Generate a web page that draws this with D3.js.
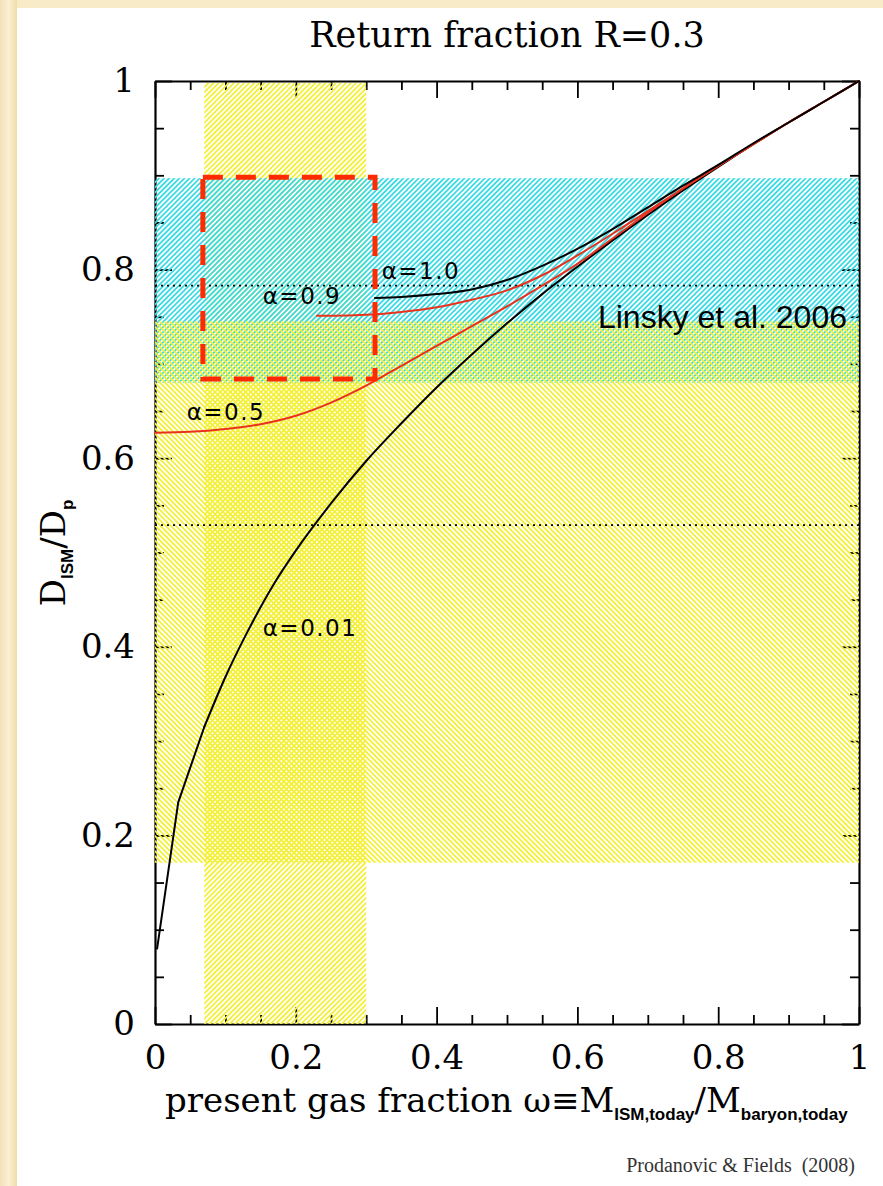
<!DOCTYPE html>
<html><head><meta charset="utf-8">
<script src="https://cdn.jsdelivr.net/npm/d3@7"></script>
<style>html,body{margin:0;padding:0;background:#fff}</style>
</head><body><svg id="c" width="883" height="1186"></svg>
<script>
// ---------- data ----------
const xTicks = [0, 0.2, 0.4, 0.6, 0.8, 1];
const xTickLabels = ["0", "0.2", "0.4", "0.6", "0.8", "1"];
const yTicks = [0, 0.2, 0.4, 0.6, 0.8, 1];
const yTickLabels = ["0", "0.2", "0.4", "0.6", "0.8", "1"];

const omegaA001 = [0.003, 0.033, 0.07, 0.1, 0.13, 0.17, 0.2, 0.25, 0.3, 0.35, 0.4, 0.45, 0.5, 0.55, 0.6, 0.65, 0.7, 0.75, 0.8, 0.85, 0.9, 0.95, 1];
const dA001     = [0.08, 0.235, 0.315, 0.368, 0.414, 0.468, 0.502, 0.552, 0.597, 0.637, 0.675, 0.71, 0.743, 0.774, 0.803, 0.831, 0.858, 0.884, 0.909, 0.933, 0.956, 0.978, 1];
const omegaA05  = [0, 0.05, 0.1, 0.15, 0.2, 0.25, 0.3, 0.35, 0.4, 0.45, 0.5, 0.55, 0.6, 0.65, 0.7, 0.75, 0.8, 0.85, 0.9, 0.95, 1];
const dA05      = [0.627, 0.628, 0.631, 0.636, 0.645, 0.659, 0.677, 0.698, 0.719, 0.74, 0.761, 0.783, 0.806, 0.833, 0.86, 0.886, 0.91, 0.933, 0.956, 0.978, 1];
const omegaA09  = [0.23, 0.25, 0.3, 0.35, 0.4, 0.45, 0.5, 0.55, 0.6, 0.65, 0.7, 0.75, 0.8, 0.85, 0.9, 0.95, 1];
const dA09      = [0.751, 0.751, 0.752, 0.755, 0.76, 0.768, 0.778, 0.794, 0.815, 0.838, 0.862, 0.886, 0.91, 0.933, 0.956, 0.978, 1];
const omegaA10  = [0.3125, 0.35, 0.4, 0.45, 0.5, 0.55, 0.6, 0.65, 0.7, 0.75, 0.8, 0.85, 0.9, 0.95, 1];
const dA10      = [0.770, 0.771, 0.774, 0.779, 0.789, 0.804, 0.822, 0.843, 0.866, 0.889, 0.911, 0.934, 0.956, 0.978, 1];

const seriesLabels = ["α=0.01", "α=0.5", "α=0.9", "α=1.0"];
const seriesColors = ["#000000", "#e8321e", "#e8321e", "#000000"];

const gasFractionBand = [0.07, 0.30];      // vertical yellow band (omega)
const linskyBand = [0.680, 0.897];         // cyan band (D/Dp)
const yellowDBand = [0.171, 0.745];        // horizontal yellow band (D/Dp)
const boxOmega = [0.068, 0.3125];          // red dashed box
const boxD = [0.684, 0.898];
const dottedLevels = [0.783, 0.529];

// ---------- setup ----------
const W = 883, H = 1186;
const svg = d3.select("#c");
const defs = svg.append("defs");

const grad = defs.append("linearGradient").attr("id", "beigeL").attr("x1", 0).attr("x2", 1).attr("y1", 0).attr("y2", 0);
grad.append("stop").attr("offset", "0").attr("stop-color", "#f3e2b6");
grad.append("stop").attr("offset", "0.5").attr("stop-color", "#fbf0d4");
grad.append("stop").attr("offset", "1").attr("stop-color", "#f1dca8");

function hatch(id, color, angle) {
  const p = defs.append("pattern").attr("id", id)
    .attr("patternUnits", "userSpaceOnUse")
    .attr("width", 3.6).attr("height", 3.6)
    .attr("patternTransform", `rotate(${angle})`);
  p.append("rect").attr("x", 0).attr("y", 0).attr("width", 1.8).attr("height", 3.6).attr("fill", color);
}
hatch("hYellowA", "#f4f03a", 45);
hatch("hCyanA", "#3cdbe4", 45);
hatch("hYellowB", "#f4f03a", -45);

// background
svg.append("rect").attr("x", 0).attr("y", 0).attr("width", W).attr("height", H).attr("fill", "#f8ebc7");
svg.append("rect").attr("x", 0).attr("y", 0).attr("width", 17).attr("height", H).attr("fill", "url(#beigeL)");
svg.append("rect").attr("x", 17).attr("y", 8).attr("width", W - 17).attr("height", H - 8).attr("fill", "#ffffff");

const x = d3.scaleLinear().domain([0, 1]).range([155, 859]);
const y = d3.scaleLinear().domain([0, 1]).range([1024, 81]);

const minorVals = d3.range(0, 21).map(i => i * 0.05).filter(v => Math.abs(v * 5 - Math.round(v * 5)) > 1e-6);

// ---------- axes (frame + ticks) ----------
const axes = [
  [d3.axisBottom(x), `translate(0,${y(0)})`, xTicks],
  [d3.axisTop(x), `translate(0,${y(1)})`, xTicks],
  [d3.axisLeft(y), `translate(${x(0)},0)`, yTicks],
  [d3.axisRight(y), `translate(${x(1)},0)`, yTicks]
];
axes.forEach(([gen, tr, majors]) => {
  const gMaj = svg.append("g").attr("transform", tr)
    .call(gen.tickValues(majors).tickSizeInner(-17).tickSizeOuter(0).tickFormat(""));
  gMaj.select(".domain").attr("stroke", "#000").attr("stroke-width", 2.2);
  gMaj.selectAll(".tick line").attr("stroke", "#000").attr("stroke-width", 1.8);
  const gMin = svg.append("g").attr("transform", tr)
    .call(gen.tickValues(minorVals).tickSizeInner(-9).tickSizeOuter(0).tickFormat(""));
  gMin.select(".domain").remove();
  gMin.selectAll(".tick line").attr("stroke", "#000").attr("stroke-width", 1.8);
});

// ---------- bands ----------
svg.append("rect")
  .attr("x", x(gasFractionBand[0])).attr("width", x(gasFractionBand[1]) - x(gasFractionBand[0]))
  .attr("y", y(0.998)).attr("height", y(0) - y(0.998))
  .attr("fill", "url(#hYellowA)");
svg.append("rect")
  .attr("x", x(0)).attr("width", x(1) - x(0))
  .attr("y", y(linskyBand[1])).attr("height", y(linskyBand[0]) - y(linskyBand[1]))
  .attr("fill", "url(#hCyanA)");
svg.append("rect")
  .attr("x", x(0)).attr("width", x(1) - x(0))
  .attr("y", y(yellowDBand[1])).attr("height", y(yellowDBand[0]) - y(yellowDBand[1]))
  .attr("fill", "url(#hYellowB)");

// dotted levels
svg.selectAll(".dotted").data(dottedLevels).enter().append("line")
  .attr("x1", x(0)).attr("x2", x(1))
  .attr("y1", d => y(d)).attr("y2", d => y(d))
  .attr("stroke", "#000").attr("stroke-width", 1.7).attr("stroke-dasharray", "2,4");

// ---------- curves ----------
const lineSmooth = d3.line().x(d => x(d[0])).y(d => y(d[1])).curve(d3.curveMonotoneX);
const lineStraight = d3.line().x(d => x(d[0])).y(d => y(d[1])).curve(d3.curveLinear);
function drawCurve(pts, color, gen) {
  svg.append("path").datum(pts)
    .attr("d", gen).attr("fill", "none")
    .attr("stroke", color).attr("stroke-width", 2)
    .attr("stroke-linejoin", "round").attr("stroke-linecap", "round");
}
// alpha = 0.01: coarse first samples drawn as straight segments, rest smooth
const pts001 = omegaA001.map((v, j) => [v, dA001[j]]);
drawCurve(pts001.slice(0, 3), seriesColors[0], lineStraight);
drawCurve(pts001.slice(2), seriesColors[0], lineSmooth);
drawCurve(omegaA05.map((v, j) => [v, dA05[j]]), seriesColors[1], lineSmooth);
drawCurve(omegaA09.map((v, j) => [v, dA09[j]]), seriesColors[2], lineSmooth);
drawCurve(omegaA10.map((v, j) => [v, dA10[j]]), seriesColors[3], lineSmooth);

// red dashed box
svg.append("rect")
  .attr("x", x(boxOmega[0])).attr("width", x(boxOmega[1]) - x(boxOmega[0]))
  .attr("y", y(boxD[1])).attr("height", y(boxD[0]) - y(boxD[1]))
  .attr("fill", "none").attr("stroke", "#ff2a00").attr("stroke-width", 5)
  .attr("stroke-dasharray", "20,13");

// ---------- tick labels ----------
const gxl = svg.append("g").attr("transform", `translate(0,${y(0)})`)
  .call(d3.axisBottom(x).tickValues(xTicks).tickSize(0).tickPadding(21).tickFormat((d, i) => xTickLabels[i]));
gxl.select(".domain").remove();
gxl.selectAll("text").attr("font-family", "DejaVu Serif").attr("font-size", 34).attr("fill", "#000");
const gyl = svg.append("g").attr("transform", `translate(${x(0)},0)`)
  .call(d3.axisLeft(y).tickValues(yTicks).tickSize(0).tickPadding(20).tickFormat((d, i) => yTickLabels[i]));
gyl.select(".domain").remove();
gyl.selectAll("text").attr("font-family", "DejaVu Serif").attr("font-size", 34).attr("fill", "#000");

// ---------- curve labels ----------
const labelPos = [[0.153, 0.411], [0.045, 0.641], [0.153, 0.764], [0.322, 0.79]];
labelPos.forEach((p, i) => {
  svg.append("text").attr("x", x(p[0])).attr("y", y(p[1]))
    .attr("font-family", "DejaVu Sans").attr("font-size", 23).attr("letter-spacing", 1.5)
    .attr("fill", "#000").text(seriesLabels[i]);
});

svg.append("text").attr("x", 847).attr("y", 328).attr("text-anchor", "end")
  .attr("font-family", "Liberation Sans").attr("font-size", 32).attr("fill", "#000")
  .text("Linsky et al. 2006");

// ---------- titles ----------
svg.append("text").attr("x", 507).attr("y", 47).attr("text-anchor", "middle")
  .attr("font-family", "DejaVu Serif").attr("font-size", 35).attr("fill", "#000")
  .text("Return fraction R=0.3");

const xt = svg.append("text").attr("x", 165).attr("y", 1112)
  .attr("font-family", "DejaVu Serif").attr("font-size", 34).attr("fill", "#000");
xt.append("tspan").text("present gas fraction ω≡M");
xt.append("tspan").attr("dy", 8).attr("font-family", "Liberation Sans").attr("font-weight", "bold").attr("font-size", 17).text("ISM,today");
xt.append("tspan").attr("dy", -8).text("/M");
xt.append("tspan").attr("dy", 8).attr("font-family", "Liberation Sans").attr("font-weight", "bold").attr("font-size", 17).text("baryon,today");

const yt = svg.append("text").attr("transform", "translate(65,553) rotate(-90)").attr("text-anchor", "middle")
  .attr("font-family", "DejaVu Serif").attr("font-size", 34).attr("fill", "#000");
yt.append("tspan").text("D");
yt.append("tspan").attr("dy", 8).attr("font-family", "Liberation Sans").attr("font-weight", "bold").attr("font-size", 17).text("ISM");
yt.append("tspan").attr("dy", -8).text("/D");
yt.append("tspan").attr("dy", 8).attr("font-family", "Liberation Sans").attr("font-weight", "bold").attr("font-size", 17).text("p");

svg.append("text").attr("x", 855).attr("y", 1172).attr("text-anchor", "end")
  .attr("font-family", "Liberation Serif").attr("font-size", 20).attr("fill", "#333")
  .style("white-space", "pre")
  .text("Prodanovic & Fields  (2008)");
</script></body></html>
